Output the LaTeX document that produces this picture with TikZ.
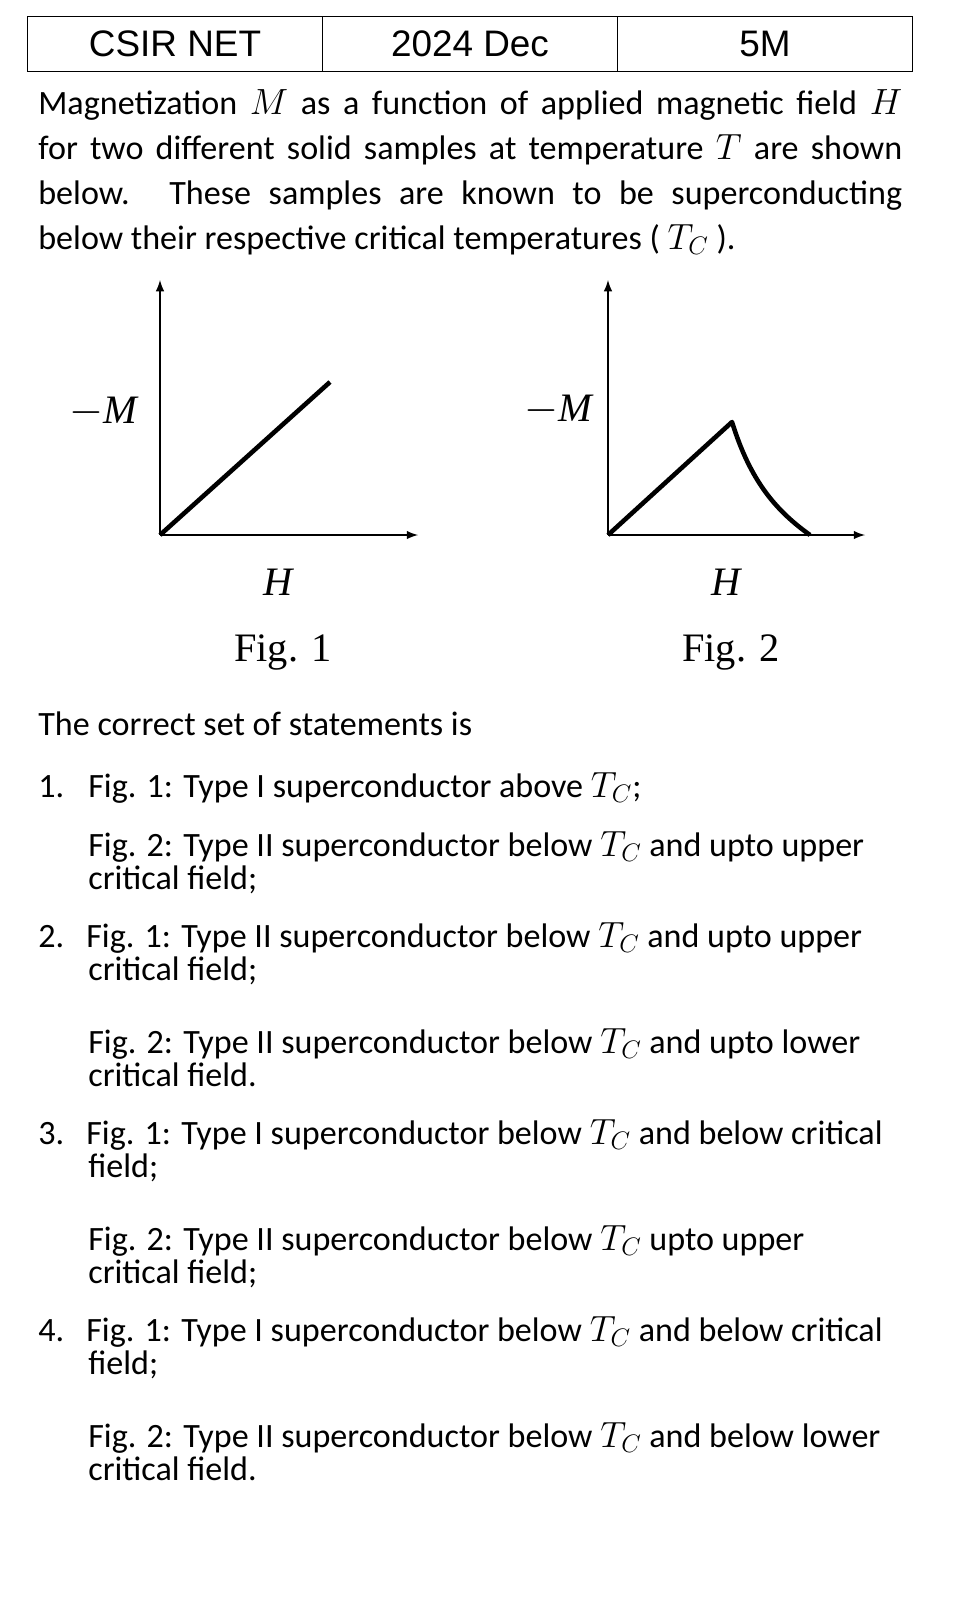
\documentclass[tikz,border=0pt]{standalone}
\usepackage{fontspec}
\setmainfont{Carlito}
\newfontfamily\figfont{Liberation Serif}
\newfontfamily\headfont{Liberation Sans}
\usetikzlibrary{positioning}
\newcommand{\fulline}[1]{\hbox to 17.28cm{#1}}
\tikzset{%
	txt/.style   = {anchor=base west, inner sep=0pt, font=\fontsize{19.4}{23}\selectfont},
	cell/.style  = {draw, thick, minimum width=5.9cm, minimum height=1.1cm, font=\headfont\fontsize{21}{24}\selectfont},
	axis/.style  = {very thick, -latex},
	curve/.style = {line width=2.6pt},
	lbl/.style   = {font=\figfont\fontsize{23}{26}\selectfont},
}
\begin{document}
\begin{tikzpicture}[x=0.02cm,y=-0.02cm]
	\useasboundingbox (0,0) rectangle (960,1600);
	% header table
	\node [cell] (c1) at (175,44) {CSIR NET};
	\node [cell] (c2) at (470,44) {2024 Dec};
	\node [cell] (c3) at (765,44) {5M};

	% question
	\node [txt] (q1) at (38,114) {\fulline{Magnetization $M$ as a function of applied magnetic field $H$}};
	\node [txt] (q2) at (38,159) {\fulline{for two different solid samples at temperature $T$ are shown}};
	\node [txt] (q3) at (38,204) {\fulline{below. These samples are known to be superconducting}};
	\node [txt] (q4) at (38,249) {below their respective critical temperatures ( $T_C$ ).};

	% Fig. 1
	\coordinate (o1) at (160,535);
	\coordinate (p1) at (330,382);
	\draw [axis] (o1) -- (160,280);
	\draw [axis] (o1) -- (418,535);
	\draw [curve] (o1) -- (p1);
	\node [lbl] (m1) at (103,412) {$-$\itshape M};
	\node [lbl] (h1) at (278,582) {\itshape H};
	\node [lbl] (f1) at (283,652) {Fig. 1};

	% Fig. 2
	\coordinate (o2) at (608,535);
	\coordinate (p2) at (732,422);
	\coordinate (e2) at (810,535);
	\draw [axis] (o2) -- (608,280);
	\draw [axis] (o2) -- (865,535);
	\draw [curve, line join=round] (o2) -- (p2) .. controls (750,480) and (775,510) .. (e2);
	\node [lbl] (m2) at (558,410) {$-$\itshape M};
	\node [lbl] (h2) at (726,582) {\itshape H};
	\node [lbl] (f2) at (731,652) {Fig. 2};

	% options
	\node [txt] (s0) at (38,735) {The correct set of statements is};
	\node [txt] (n1) at (38,797) {1.};
	\node [txt] (a1) at (88,797) {Fig. 1: Type I superconductor above $T_C$;};
	\node [txt] (a2) at (88,856) {Fig. 2: Type II superconductor below $T_C$ and upto upper};
	\node [txt] (a3) at (88,889) {critical field;};
	\node [txt] (n2) at (38,947) {2.};
	\node [txt] (b1) at (86,947) {Fig. 1: Type II superconductor below $T_C$ and upto upper};
	\node [txt] (b2) at (88,980) {critical field;};
	\node [txt] (b3) at (88,1053) {Fig. 2: Type II superconductor below $T_C$ and upto lower};
	\node [txt] (b4) at (88,1086) {critical field.};
	\node [txt] (n3) at (38,1144) {3.};
	\node [txt] (d1) at (86,1144) {Fig. 1: Type I superconductor below $T_C$ and below critical};
	\node [txt] (d2) at (88,1177) {field;};
	\node [txt] (d3) at (88,1250) {Fig. 2: Type II superconductor below $T_C$ upto upper};
	\node [txt] (d4) at (88,1283) {critical field;};
	\node [txt] (n4) at (38,1341) {4.};
	\node [txt] (g1) at (86,1341) {Fig. 1: Type I superconductor below $T_C$ and below critical};
	\node [txt] (g2) at (88,1374) {field;};
	\node [txt] (g3) at (88,1447) {Fig. 2: Type II superconductor below $T_C$ and below lower};
	\node [txt] (g4) at (88,1480) {critical field.};
\end{tikzpicture}
\end{document}
